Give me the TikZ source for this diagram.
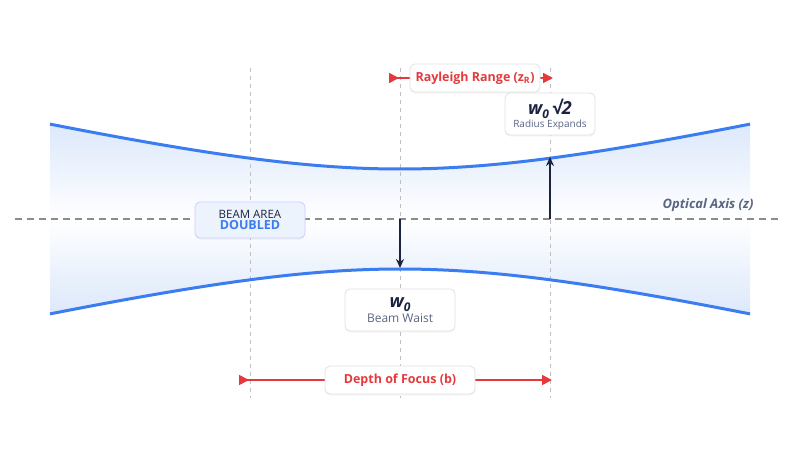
\documentclass[tikz,border=0pt]{standalone}
\usepackage{fontspec}
\setmainfont{Open Sans}
\usetikzlibrary{arrows.meta,shadows}
\definecolor{beam}{HTML}{3B7DF0}
\definecolor{beamfill}{HTML}{DCE8FB}
\definecolor{redc}{HTML}{E5393D}
\definecolor{navy}{HTML}{1B2340}
\definecolor{grayt}{HTML}{5A6680}
\newcommand{\fs}[1]{\fontsize{#1}{#1}\selectfont}
\newcommand{\wsub}{\raisebox{-4pt}{\fs{12}0}}
\tikzset{
  lbl/.style={draw=black!12,fill=white,rounded corners=5pt,line width=0.8pt,drop shadow={opacity=0.08,shadow xshift=0pt,shadow yshift=-1.5pt},align=center,inner sep=0pt},
  guide/.style={draw=black!25,line width=1pt,dash pattern=on 4pt off 4pt},
  redarrow/.style={draw=redc,line width=1.6pt,{Triangle[reversed,length=10pt,width=10pt]}-{Triangle[length=10pt,width=10pt]}},
  karrow/.style={draw=navy,line width=1.6pt,-{Stealth[length=9pt,width=8pt]}}
}
\begin{document}
\begin{tikzpicture}[x=1pt,y=-1pt]
\useasboundingbox (0,0) rectangle (800,450);
\shade[top color=beamfill,bottom color=beamfill,middle color=white]
  plot[domain=-350:350,samples=80] ({400+\x},{219-50*sqrt(1+(\x/217)^2)})
  -- plot[domain=350:-350,samples=80] ({400+\x},{219+50*sqrt(1+(\x/217)^2)}) -- cycle;
\foreach \gx/\gn in {250/ga,400/gb,550/gc}{
  \coordinate (\gn t) at (\gx,68);
  \coordinate (\gn b) at (\gx,398);
  \draw[guide] (\gn t) -- (\gn b);
}
\coordinate (axl) at (15,219);
\coordinate (axr) at (782,219);
\draw[draw=black!45,line width=1.3pt,dash pattern=on 7pt off 5pt] (axl) -- (axr);
\node[text=grayt,font=\bfseries\itshape\fs{13}] (axlbl) at (708,205) {Optical Axis (z)};
\draw[beam,line width=3pt] plot[domain=-350:350,samples=80] ({400+\x},{219-50*sqrt(1+(\x/217)^2)});
\draw[beam,line width=3pt] plot[domain=-350:350,samples=80] ({400+\x},{219+50*sqrt(1+(\x/217)^2)});
\coordinate (c0) at (400,219); \coordinate (w0e) at (400,268);
\coordinate (c1) at (550,219); \coordinate (w1e) at (550,157);
\draw[karrow] (c0) -- (w0e);
\draw[karrow] (c1) -- (w1e);
\coordinate (r0) at (389,78); \coordinate (r1) at (553,78);
\draw[redarrow] (r0) -- (r1);
\node[lbl,minimum width=130pt,minimum height=28pt,text=redc,font=\bfseries\fs{12.5}] (rl) at (475,78) {Rayleigh Range (z\textsubscript{R})};
\coordinate (d0) at (239,380); \coordinate (d1) at (552,380);
\draw[redarrow] (d0) -- (d1);
\node[lbl,minimum width=150pt,minimum height=28pt,text=redc,font=\bfseries\fs{12.5}] (dl) at (400,380) {Depth of Focus (b)};
\node[lbl,minimum width=90pt,minimum height=42pt] (re) at (550,114)
 {{\color{navy}\bfseries\itshape\fs{18}w\wsub\,√2}\\[1pt]{\color{grayt}\fs{10}Radius Expands}};
\node[lbl,minimum width=110pt,minimum height=42pt] (bw) at (400,310)
 {{\color{navy}\bfseries\itshape\fs{18}w\wsub}\\[1pt]{\color{grayt}\fs{12}Beam Waist}};
\node[lbl,draw=blue!20,fill=beamfill!50,minimum width=110pt,minimum height=36pt] (ba) at (250,220)
 {{\color{navy}\fs{11.5}BEAM AREA}\\[-1pt]{\color{beam}\bfseries\fs{12.5}DOUBLED}};
\end{tikzpicture}
\end{document}
